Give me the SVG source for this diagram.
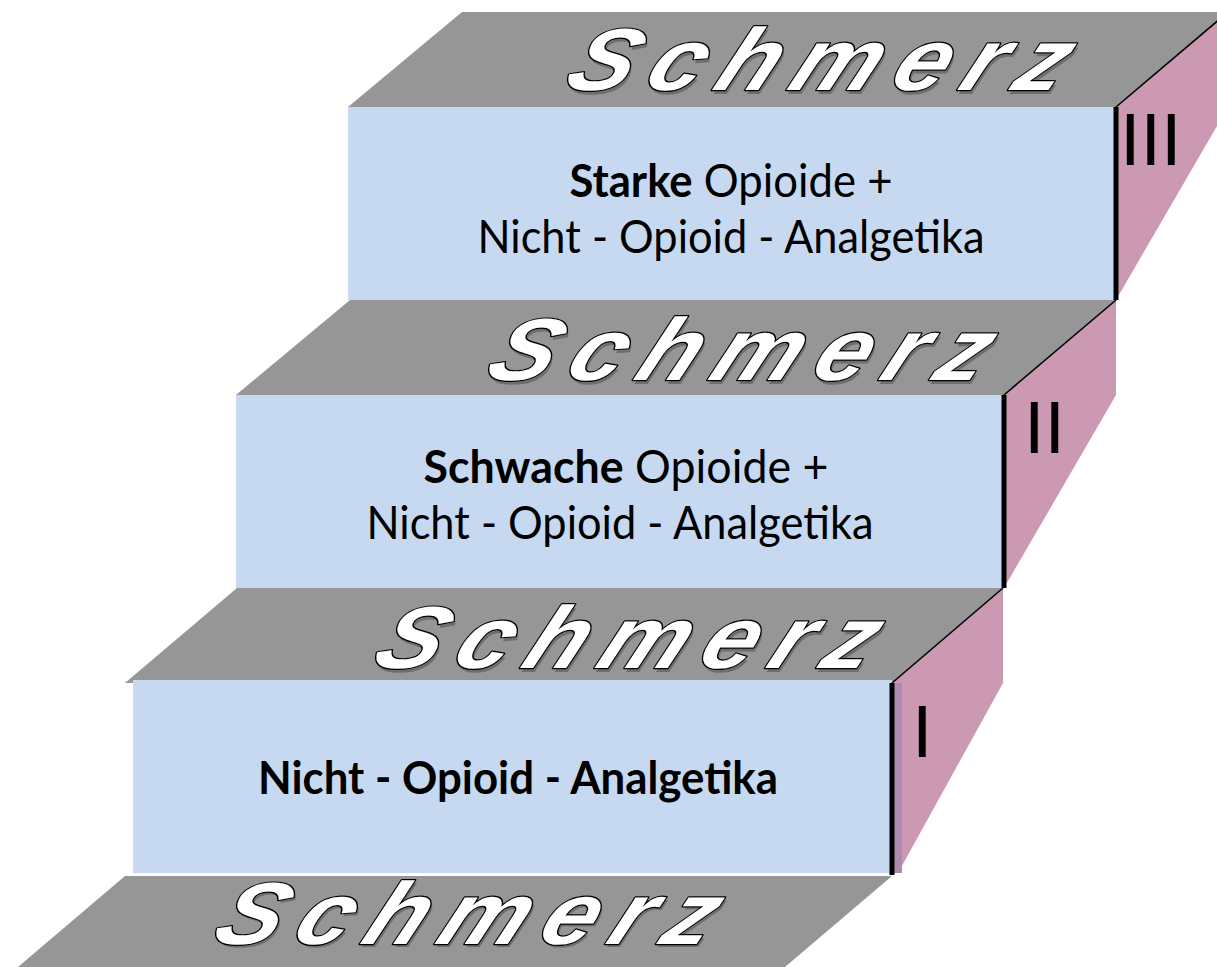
<svg xmlns="http://www.w3.org/2000/svg" width="1217" height="967" viewBox="0 0 1217 967">
<style>
.top{fill:#969696}
.front{fill:#C6D9F0}
.side{fill:#CC99B3}
.edge{stroke:#000;stroke-width:5;fill:none}
.thin{stroke:#000;stroke-width:1.6;fill:none}
.lbl{font-family:Lato,"Liberation Sans",sans-serif;font-size:46px;fill:#000;text-anchor:middle}
.b{font-weight:bold}
.num{font-family:"Liberation Sans",Arial,sans-serif;font-size:74px;fill:#000}
.wa{font-family:"Liberation Sans",Arial,sans-serif;font-weight:bold;font-style:italic;font-size:88px;letter-spacing:14px}
.wash{fill:#6E6E6E}
.wamain{fill:#fff;stroke:#000;stroke-width:2.4;paint-order:stroke fill;stroke-linejoin:round}
</style>
<rect width="1217" height="967" fill="#fff"/>

<g id="floor">
<polygon class="top" points="18,967 125,876 892,876 785,967"/>
<g transform="translate(209,944) skewX(-24) scale(1.1,1)">
<text class="wa wash" x="3" y="3">Schmerz</text>
<text class="wa wamain" x="0" y="0">Schmerz</text>
</g>
</g>

<g id="step1">
<polygon class="top" points="125,683 237,588 1003,588 892,683"/>
<polygon class="side" points="892,683 1003,588 1003,683 898,873 892,873"/>
<rect class="front" x="133" y="680" width="759" height="193"/>
<rect x="892" y="683" width="10" height="190" fill="#AD8BAF"/>
<line class="edge" x1="892" y1="683" x2="892" y2="875"/>
<line class="thin" x1="892" y1="683" x2="1003" y2="588"/>
<text class="num" x="912" y="757">I</text>
<text class="lbl b" x="518" y="794" textLength="520" lengthAdjust="spacingAndGlyphs">Nicht - Opioid - Analgetika</text>
<g transform="translate(369,668) skewX(-24) scale(1.1,1)">
<text class="wa wash" x="3" y="4">Schmerz</text>
<text class="wa wamain" x="0" y="0">Schmerz</text>
</g>
</g>

<g id="step2">
<polygon class="top" points="236,395 350,300 1116,300 1004,395"/>
<polygon class="side" points="1004,395 1116,300 1116,395 1004,588"/>
<rect class="front" x="236" y="395" width="768" height="193"/>
<line class="edge" x1="1004" y1="395" x2="1004" y2="588"/>
<line class="thin" x1="1004" y1="395" x2="1116" y2="300"/>
<text class="num" x="1024" y="453">II</text>
<text class="lbl" x="626" y="483" textLength="405" lengthAdjust="spacingAndGlyphs"><tspan class="b">Schwache</tspan> Opioide +</text>
<text class="lbl" x="620" y="539" textLength="507" lengthAdjust="spacingAndGlyphs">Nicht - Opioid - Analgetika</text>
<g transform="translate(482,380) skewX(-24) scale(1.1,1)">
<text class="wa wash" x="3" y="4">Schmerz</text>
<text class="wa wamain" x="0" y="0">Schmerz</text>
</g>
</g>

<g id="step3">
<polygon class="top" points="348,107 462,12 1228,12 1116,107"/>
<polygon class="side" points="1116,107 1228,12 1228,107 1116,300"/>
<rect class="front" x="348" y="107" width="768" height="193"/>
<line class="edge" x1="1116" y1="107" x2="1116" y2="300"/>
<line class="thin" x1="1116" y1="107" x2="1228" y2="12"/>
<text class="num" x="1120" y="165">III</text>
<text class="lbl" x="731" y="197" textLength="323" lengthAdjust="spacingAndGlyphs"><tspan class="b">Starke</tspan> Opioide +</text>
<text class="lbl" x="731" y="253" textLength="507" lengthAdjust="spacingAndGlyphs">Nicht - Opioid - Analgetika</text>
<g transform="translate(561,90) skewX(-24) scale(1.1,1)">
<text class="wa wash" x="3" y="4">Schmerz</text>
<text class="wa wamain" x="0" y="0">Schmerz</text>
</g>
</g>
</svg>
